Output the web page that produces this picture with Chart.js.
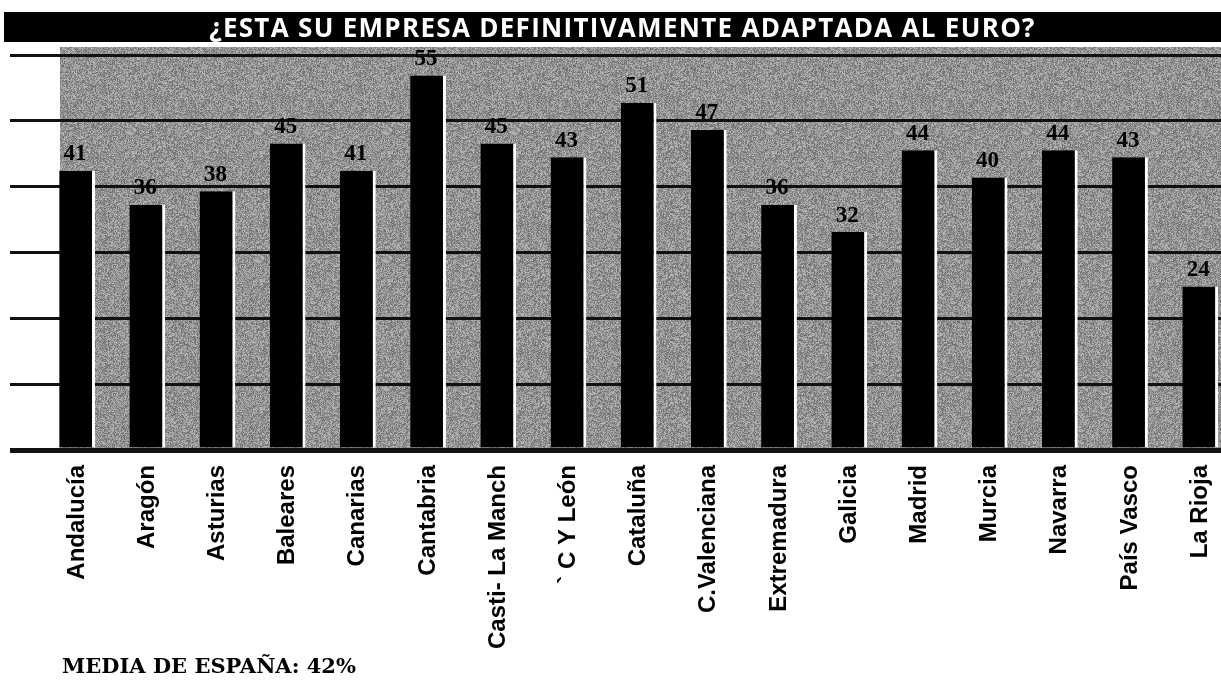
<!DOCTYPE html>
<html>
<head>
<meta charset="utf-8">
<script src="https://cdn.jsdelivr.net/npm/chart.js@4.4.1/dist/chart.umd.min.js"></script>
<style>
  html, body { margin: 0; padding: 0; background: #fff; overflow: hidden; }
  #wrap { position: absolute; left: 0; top: 0; width: 1236px; height: 685px; }
  #title {
    position: absolute; left: 4px; top: 12px; width: 1217px; height: 30px;
    background: #000; color: #fff; text-align: center;
    font: bold 26px "Open Sans", "DejaVu Sans", sans-serif; line-height: 30px;
    padding-left: 20px; box-sizing: border-box; letter-spacing: 1.3px;
  }
  #media {
    position: absolute; left: 62px; top: 653px;
    font: bold 21px "DejaVu Serif", serif; color: #000;
  }
</style>
</head>
<body>
<div id="wrap"><canvas id="chart-euro"></canvas></div>
<div id="title">¿ESTA SU EMPRESA DEFINITIVAMENTE ADAPTADA AL EURO?</div>
<div id="media">MEDIA DE ESPAÑA: 42%</div>
<script>
const regiones = ['Andalucía', 'Aragón', 'Asturias', 'Baleares', 'Canarias', 'Cantabria',
  'Casti- La Manch', '` C Y León', 'Cataluña', 'C.Valenciana', 'Extremadura', 'Galicia',
  'Madrid', 'Murcia', 'Navarra', 'País Vasco', 'La Rioja'];
const adaptadas = [41, 36, 38, 45, 41, 55, 45, 43, 51, 47, 36, 32, 44, 40, 44, 43, 24];
const ejeMax = 58;

// grey newsprint grain for the plot background
const tex = document.createElement('canvas');
tex.width = 128; tex.height = 128;
const tctx = tex.getContext('2d');
const img = tctx.createImageData(128, 128);
let seed = 987654;
const rnd = () => { seed = (seed * 1103515245 + 12345) & 0x7fffffff; return (seed >> 8) / 8388608; };
for (let i = 0; i < 128 * 128; i++) {
  const v = 105 + Math.floor(rnd() * 85);
  img.data[i * 4] = v; img.data[i * 4 + 1] = v; img.data[i * 4 + 2] = v; img.data[i * 4 + 3] = 255;
}
tctx.putImageData(img, 0, 0);

const fondo = {
  id: 'fondo',
  beforeDraw(chart) {
    const { ctx, chartArea: a } = chart;
    ctx.save();
    ctx.fillStyle = ctx.createPattern(tex, 'repeat');
    ctx.fillRect(60, a.top - 8, a.right - 60, a.bottom - a.top + 8);
    ctx.restore();
  }
};

const etiquetas = {
  id: 'etiquetas',
  afterDatasetsDraw(chart) {
    const { ctx } = chart;
    const meta = chart.getDatasetMeta(0);
    ctx.save();
    ctx.font = 'bold 23px "Liberation Serif", serif';
    ctx.fillStyle = '#000';
    ctx.textAlign = 'center';
    ctx.textBaseline = 'bottom';
    meta.data.forEach((bar, i) => {
      ctx.fillText(adaptadas[i], bar.x - 2, bar.y - 5);
    });
    ctx.restore();
  }
};

new Chart(
  document.getElementById('chart-euro'),
  {
    type: 'bar',
    data: {
      labels: regiones,
      datasets: [
        {
          label: 'Empresas adaptadas al euro',
          data: adaptadas,
          backgroundColor: '#000',
          borderColor: '#fff',
          borderWidth: { left: 0, right: 3, top: 0, bottom: 0 },
          borderSkipped: false,
          barPercentage: 0.51,
          categoryPercentage: 1
        }
      ]
    },
    options: {
      responsive: true,
      maintainAspectRatio: false,
      animation: false,
      layout: { padding: { left: 10, right: 0, top: 55, bottom: 35 } },
      plugins: { legend: { display: false }, tooltip: { enabled: false } },
      scales: {
        x: {
          grid: { display: false },
          border: { display: false },
          ticks: {
            color: '#000',
            font: { family: '"Liberation Sans", Arial, sans-serif', size: 24, weight: 'bold' },
            minRotation: 90, maxRotation: 90, padding: 7, autoSkip: false
          },
          afterFit: (s) => { s.height = 200; }
        },
        y: {
          min: 0, max: ejeMax,
          border: { display: false },
          grid: {
            color: '#111',
            lineWidth: (c) => c.index === 0 ? 5 : 3,
            drawTicks: true, tickLength: 32
          },
          ticks: { display: false, stepSize: ejeMax / 6 },
          afterFit: (s) => { s.width = 32; }
        }
      }
    },
    plugins: [fondo, etiquetas]
  }
);
</script>
</body>
</html>
